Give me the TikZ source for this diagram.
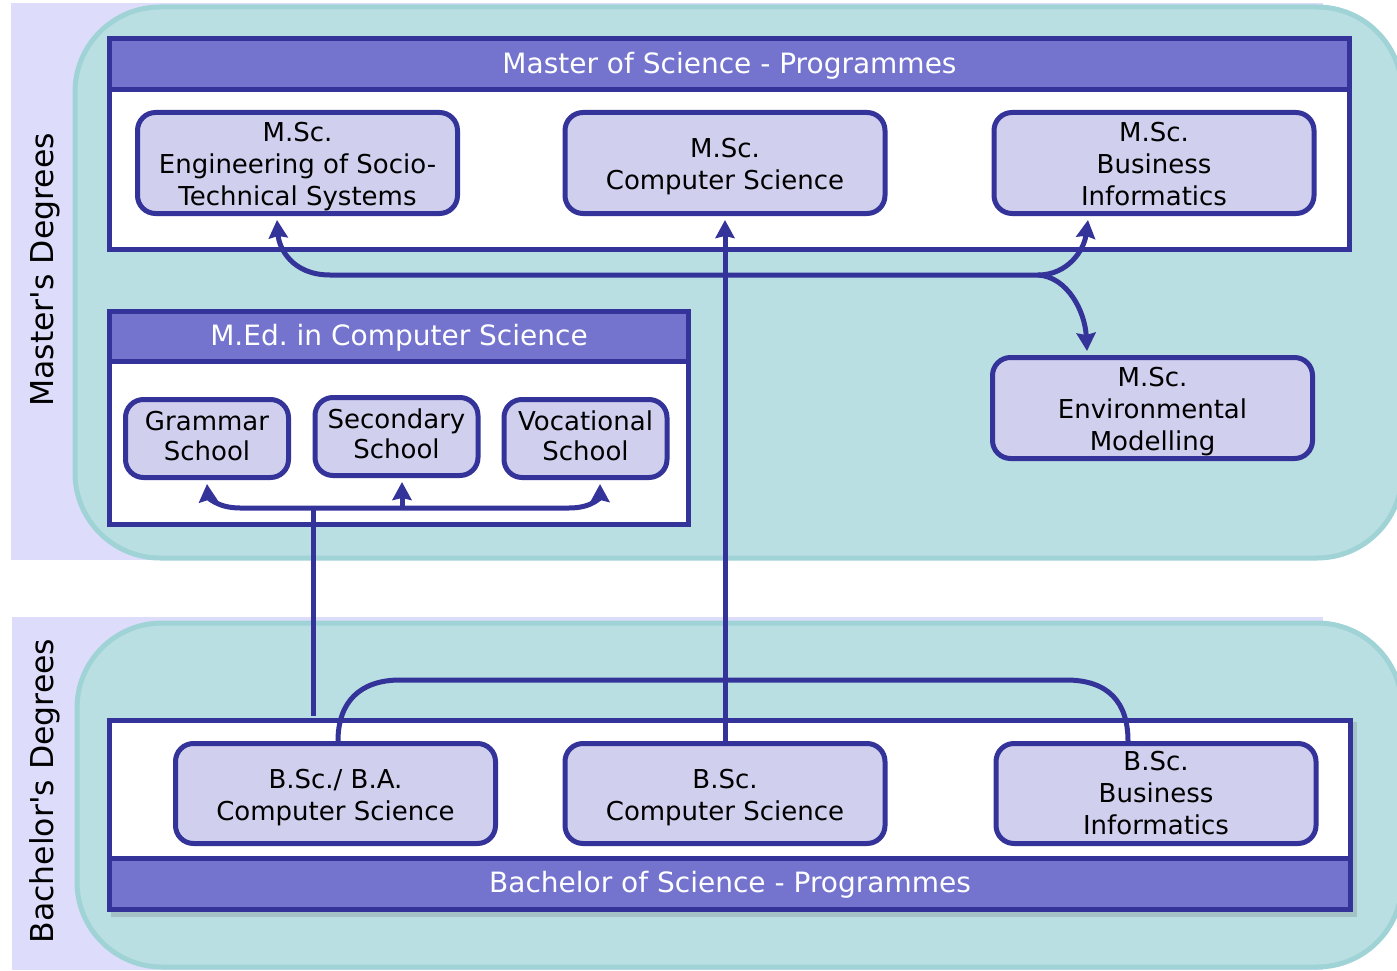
\documentclass[tikz,border=0pt]{standalone}
\usepackage{fontspec}
\setmainfont{DejaVu Sans}
\usetikzlibrary{arrows.meta,calc}
\definecolor{lav}{HTML}{DDDDFB}
\definecolor{tealfill}{HTML}{BADFE2}
\definecolor{tealline}{HTML}{9FD3D6}
\definecolor{dblue}{HTML}{333399}
\definecolor{hdr}{HTML}{7474CF}
\definecolor{boxfill}{HTML}{D0D0EE}
\frenchspacing
\newcommand\txt[2]{\raisebox{#1}[\height][\depth]{\begin{tabular}{@{}c@{}}#2\end{tabular}}}
\begin{document}
\begin{tikzpicture}[x=1pt,y=-1pt,
  degbox/.style={draw=dblue,line width=5pt,fill=boxfill,rounded corners=18pt,
    inner sep=0pt,font=\fontsize{26}{32}\selectfont,minimum width=320pt,minimum height=101pt},
  schoolbox/.style={degbox,font=\fontsize{26}{30}\selectfont,minimum width=163pt,minimum height=78pt},
  panel/.style={draw=dblue,line width=5pt,fill=white,inner sep=0pt},
  head/.style={draw=dblue,line width=5pt,fill=hdr,text=white,inner sep=0pt,font=\fontsize{28}{32}\selectfont},
  side/.style={rotate=90,font=\fontsize{31.5}{36}\selectfont,inner sep=0pt},
  conn/.style={draw=dblue,line width=5pt},
  arr/.style={conn,-{Stealth[length=18pt,width=19pt,inset=2pt]}}]
\useasboundingbox (0,0) rectangle (1397,971);
% backgrounds
\fill[lav] (11,3) rectangle (1323,560);
\draw[tealline,line width=5pt,fill=tealfill,rounded corners=85pt] (75,7) rectangle (1402,558);
\fill[lav] (12,617) rectangle (1323,970);
\draw[tealline,line width=5pt,fill=tealfill,rounded corners=85pt] (77,623) rectangle (1402,967);
\node[side] (mlab) at (45,270) {Master\textquotesingle s Degrees};
\node[side] (blab) at (45,791) {Bachelor\textquotesingle s Degrees};
% Master panel
\node[panel,minimum width=1240pt,minimum height=211pt] (mpanel) at (729.5,144) {};
\node[head,minimum width=1240pt,minimum height=51pt] (mhead) at (729.5,64) {\txt{-3pt}{Master of Science - Programmes}};
\node[degbox] (msc1) at (297.5,163) {\txt{-4.5pt}{M.Sc.\\Engineering of Socio-\\Technical Systems}};
\node[degbox] (msc2) at (725,163) {\txt{-4.5pt}{M.Sc.\\Computer Science}};
\node[degbox] (msc3) at (1154,163) {\txt{-4.5pt}{M.Sc.\\Business\\Informatics}};
\node[degbox] (env) at (1152.5,408) {\txt{-4.5pt}{M.Sc.\\Environmental\\Modelling}};
% M.Ed panel
\node[panel,minimum width=579pt,minimum height=213pt] (epanel) at (399,418) {};
\node[head,minimum width=579pt,minimum height=50pt] (ehead) at (399,336.5) {\txt{-3pt}{M.Ed. in Computer Science}};
\node[schoolbox] (gram) at (207,438.5) {\txt{-1pt}{Grammar\\School}};
\node[schoolbox] (sec) at (396.5,436.5) {\txt{-1pt}{Secondary\\School}};
\node[schoolbox] (voc) at (585.5,438.5) {\txt{-1pt}{Vocational\\School}};
% Bachelor panel
\fill[black,opacity=0.12] (111,722) rectangle (1357,917);
\node[panel,minimum width=1241pt,minimum height=189pt] (bpanel) at (730,815) {};
\node[head,minimum width=1241pt,minimum height=51pt] (bhead) at (730,884) {\txt{-2pt}{Bachelor of Science - Programmes}};
\node[degbox,minimum height=100pt] (bscba) at (335.5,793.5) {\txt{-4.5pt}{B.Sc./ B.A.\\Computer Science}};
\node[degbox,minimum height=100pt] (bsccs) at (725,793.5) {\txt{-4.5pt}{B.Sc.\\Computer Science}};
\node[degbox,minimum height=100pt] (bscbi) at (1156,793.5) {\txt{-3pt}{B.Sc.\\Business\\Informatics}};
% connectors master
\coordinate (hub) at (1038,275);
\draw[arr] (hub) -- (330,275) .. controls (292,275) and (279,248) .. ($(msc1.south)+(-20.5,4)$);
\draw[arr] (hub) .. controls (1068,275) and (1084,250) .. ($(msc3.south)+(-66,4)$);
\draw[arr] (hub) .. controls (1068,277) and (1085,312) .. ($(env.north)+(-65.5,-4)$);
\draw[arr] (bsccs.north) -- ($(msc2.south)+(0,4)$);
% connectors M.Ed
\coordinate (medfoot) at ($(bpanel.north west)+(206,-2)$);
\coordinate (medhub) at (313,508);
\draw[conn] (medfoot) -- (medhub);
\draw[arr] (medhub) -- (240,508) .. controls (216,508) and (208,496) .. ($(gram.south)+(0,4)$);
\draw[arr] (medhub) -- (569,508) .. controls (594,508) and (600,496) .. ($(voc.south)+(14.5,4)$);
\draw[arr] (402,509) -- ($(sec.south)+(5.5,4)$);
% bachelor arc
\draw[conn] ($(bscba.north)+(2.5,0)$) .. controls (338,702) and (360,680) .. (400,680) -- (1066,680) .. controls (1108,680) and (1128,702) .. ($(bscbi.north)+(-28,0)$);
\end{tikzpicture}
\end{document}
